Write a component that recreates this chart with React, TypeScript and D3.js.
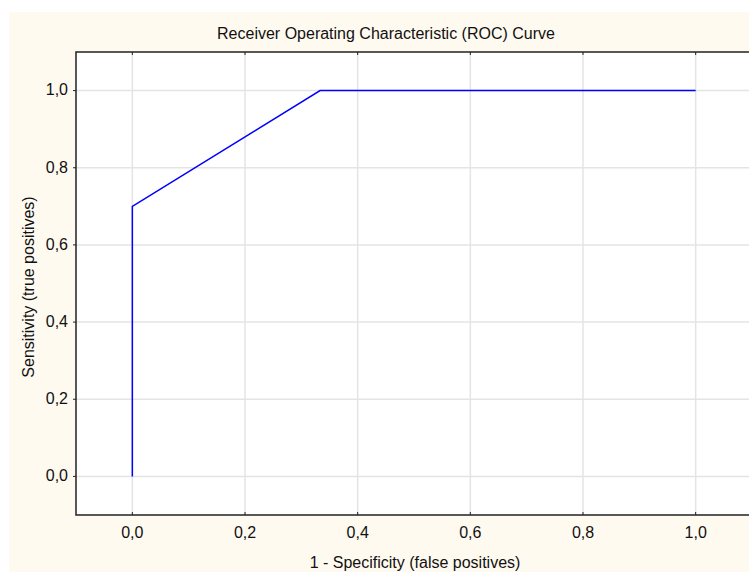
import React from 'react'
import * as d3 from 'd3'

// ROC curve points (1 - specificity, sensitivity)
const fpr = [0, 0, 0.3333, 1]
const tpr = [0, 0.7, 1, 1]
const xTicks = [0, 0.2, 0.4, 0.6, 0.8, 1]
const yTicks = [0, 0.2, 0.4, 0.6, 0.8, 1]

const W = 749
const H = 572
const plot = { left: 76, top: 52, right: 752, bottom: 515 }
const font = '"Liberation Sans", Arial, sans-serif'
const fs = 16
const fmt = (v: number) => v.toFixed(1).replace('.', ',')

export default function App() {
  const x = d3.scaleLinear().domain([-0.1, 1.1]).range([plot.left, plot.right])
  const y = d3.scaleLinear().domain([-0.1, 1.1]).range([plot.bottom, plot.top])
  const line = d3
    .line<number>()
    .x((_, i) => x(fpr[i]))
    .y(d => y(d))

  return (
    <svg
      width={W}
      height={H}
      style={{ position: 'absolute', left: 0, top: 0, background: '#fff' }}
      fontFamily={font}
    >
      <rect x={9} y={12} width={W - 9} height={H - 12} fill="#fffaf0" />
      <rect
        x={plot.left}
        y={plot.top}
        width={plot.right - plot.left}
        height={plot.bottom - plot.top}
        fill="#fff"
      />
      {xTicks.map(t => (
        <line
          key={'gx' + t}
          x1={x(t)}
          x2={x(t)}
          y1={plot.top}
          y2={plot.bottom}
          stroke="#e4e4e4"
          strokeWidth={1.5}
        />
      ))}
      {yTicks.map(t => (
        <line
          key={'gy' + t}
          x1={plot.left}
          x2={plot.right}
          y1={y(t)}
          y2={y(t)}
          stroke="#e4e4e4"
          strokeWidth={1.5}
        />
      ))}
      <path d={line(tpr) || ''} fill="none" stroke="#0000ff" strokeWidth={1.5} />
      {/* frame */}
      <path
        d={`M${plot.right},${plot.top}H${plot.left}V${plot.bottom}H${plot.right}`}
        fill="none"
        stroke="#222"
        strokeWidth={1.5}
      />
      {xTicks.map(t => (
        <g key={'tx' + t}>
          <line x1={x(t)} x2={x(t)} y1={plot.bottom} y2={plot.bottom - 3} stroke="#222" />
          <line x1={x(t)} x2={x(t)} y1={plot.top} y2={plot.top + 3} stroke="#222" />
          <text x={x(t)} y={538} textAnchor="middle" fontSize={fs} fill="#111">
            {fmt(t)}
          </text>
        </g>
      ))}
      {yTicks.map(t => (
        <g key={'ty' + t}>
          <line x1={plot.left} x2={plot.left - 3} y1={y(t)} y2={y(t)} stroke="#222" />
          <text x={68} y={y(t)} dy="0.3em" textAnchor="end" fontSize={fs} fill="#111">
            {fmt(t)}
          </text>
        </g>
      ))}
      <text x={386} y={38.5} textAnchor="middle" fontSize={fs} fill="#111">
        Receiver Operating Characteristic (ROC) Curve
      </text>
      <text x={415} y={568} textAnchor="middle" fontSize={fs} fill="#111">
        1 - Specificity (false positives)
      </text>
      <text
        transform={`translate(34,${287}) rotate(-90)`}
        textAnchor="middle"
        fontSize={fs}
        fill="#111"
      >
        Sensitivity (true positives)
      </text>
    </svg>
  )
}
